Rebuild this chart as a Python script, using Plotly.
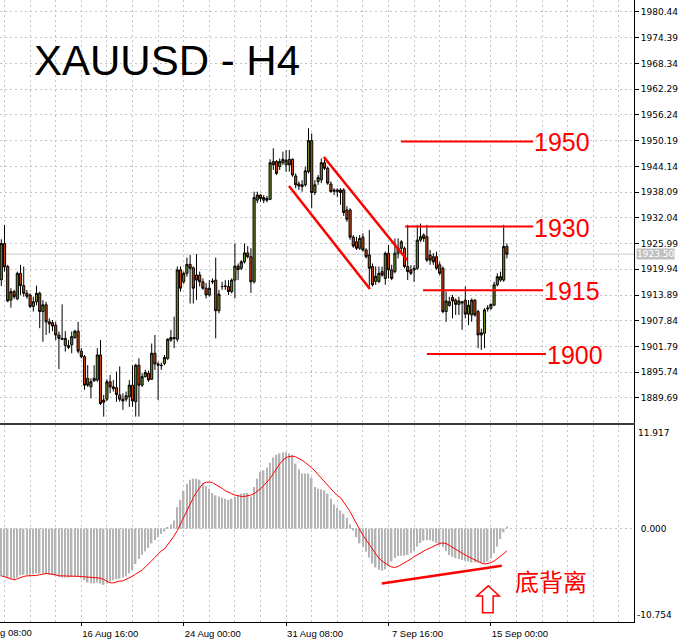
import plotly.graph_objects as go

# ---------------- data (H4 bars, index 0 = first full bar on screen) ----------------
bars = list(range(-1, 158))

open_ = [1917.5, 1926.0, 1920.6, 1912.7, 1914.7, 1913.0, 1919.0, 1916.1, 1914.3, 1913.9,
         1911.2, 1912.3, 1914.3, 1910.0, 1911.6, 1907.6, 1907.4, 1906.8, 1904.5, 1903.7,
         1902.0, 1902.0, 1902.2, 1903.9, 1905.4, 1900.7, 1899.4, 1894.3, 1892.3, 1893.7,
         1893.9, 1899.8, 1889.2, 1889.4, 1893.5, 1892.3, 1892.1, 1890.4, 1889.4, 1889.4,
         1890.0, 1892.7, 1888.8, 1897.4, 1892.7, 1894.7, 1895.5, 1894.1, 1900.2, 1897.7,
         1897.4, 1897.8, 1899.0, 1903.3, 1903.9, 1903.5, 1919.8, 1917.0, 1919.0, 1921.1,
         1920.3, 1918.6, 1918.6, 1917.0, 1915.5, 1913.9, 1917.2, 1917.4, 1910.2, 1915.9,
         1915.9, 1915.9, 1914.7, 1917.4, 1920.7, 1920.2, 1921.7, 1923.8, 1922.9, 1917.0,
         1936.2, 1937.4, 1936.2, 1936.6, 1936.4, 1945.3, 1945.3, 1944.1, 1945.0, 1944.5,
         1945.8, 1945.8, 1941.9, 1940.0, 1939.8, 1939.8, 1942.9, 1950.2, 1938.0, 1940.6,
         1941.0, 1945.0, 1943.7, 1940.0, 1938.6, 1938.6, 1938.6, 1938.6, 1933.9, 1933.9,
         1927.5, 1926.4, 1924.9, 1927.5, 1924.5, 1923.3, 1920.6, 1917.1, 1917.1, 1919.4,
         1917.8, 1923.7, 1919.8, 1919.4, 1923.7, 1924.9, 1924.9, 1920.6, 1919.8, 1920.2,
         1920.2, 1926.8, 1928.0, 1927.6, 1923.3, 1922.9, 1922.9, 1921.0, 1920.2, 1910.0,
         1911.4, 1913.3, 1912.7, 1911.7, 1912.0, 1912.7, 1909.4, 1909.2, 1912.7, 1910.0,
         1904.5, 1904.9, 1910.6, 1910.8, 1911.5, 1916.3, 1917.4, 1917.4, 1925.3]

high = [1927.0, 1930.4, 1921.0, 1915.5, 1915.1, 1919.4, 1921.0, 1920.6, 1915.1, 1914.3,
        1913.5, 1916.1, 1914.7, 1912.7, 1912.3, 1908.4, 1908.0, 1907.6, 1905.3, 1911.7,
        1905.4, 1903.3, 1905.3, 1905.7, 1907.6, 1901.4, 1899.8, 1897.4, 1894.3, 1897.4,
        1901.4, 1903.3, 1890.4, 1894.1, 1895.1, 1893.9, 1895.9, 1897.1, 1890.8, 1891.2,
        1893.9, 1897.4, 1897.7, 1899.0, 1895.5, 1896.3, 1896.1, 1902.5, 1904.5, 1898.2,
        1898.0, 1899.8, 1903.7, 1905.7, 1908.8, 1920.6, 1920.6, 1919.4, 1922.7, 1923.3,
        1920.6, 1923.5, 1919.4, 1917.8, 1916.7, 1917.4, 1917.8, 1922.7, 1915.1, 1917.0,
        1917.4, 1917.4, 1917.8, 1926.0, 1921.3, 1922.1, 1926.0, 1925.4, 1924.9, 1938.2,
        1938.2, 1937.6, 1937.4, 1937.2, 1945.8, 1948.4, 1945.6, 1946.0, 1947.6, 1948.0,
        1948.0, 1946.0, 1942.5, 1940.6, 1940.9, 1944.1, 1953.1, 1951.9, 1940.9, 1942.1,
        1946.0, 1945.8, 1944.1, 1940.6, 1939.0, 1939.0, 1939.0, 1939.0, 1934.8, 1934.3,
        1928.0, 1927.6, 1928.0, 1928.4, 1924.9, 1929.2, 1921.3, 1920.6, 1920.6, 1920.6,
        1924.1, 1925.7, 1921.0, 1927.2, 1927.2, 1926.8, 1925.3, 1930.4, 1920.9, 1920.9,
        1930.4, 1930.7, 1928.4, 1930.4, 1924.5, 1923.7, 1924.1, 1921.7, 1920.6, 1914.7,
        1913.5, 1913.9, 1913.1, 1913.5, 1912.5, 1915.9, 1912.7, 1913.1, 1912.9, 1910.4,
        1906.0, 1910.8, 1911.5, 1911.9, 1917.0, 1919.0, 1919.4, 1930.4, 1926.0]

low = [1916.0, 1919.4, 1912.2, 1910.9, 1913.0, 1912.7, 1913.9, 1913.5, 1913.0, 1910.8,
       1910.0, 1911.5, 1906.1, 1902.9, 1904.5, 1904.9, 1905.4, 1903.3, 1896.5, 1903.3,
       1900.6, 1901.2, 1900.2, 1903.6, 1900.2, 1899.0, 1891.6, 1892.3, 1889.6, 1893.5,
       1893.5, 1888.0, 1885.3, 1889.0, 1890.8, 1891.2, 1888.8, 1888.8, 1886.9, 1888.8,
       1887.6, 1887.6, 1885.3, 1885.3, 1892.3, 1894.5, 1893.5, 1893.9, 1896.3, 1889.2,
       1896.3, 1897.4, 1898.6, 1902.9, 1901.4, 1902.9, 1914.7, 1916.5, 1918.2, 1911.9,
       1911.9, 1912.7, 1915.9, 1915.1, 1913.1, 1913.5, 1916.5, 1903.7, 1909.6, 1915.1,
       1915.1, 1913.9, 1914.3, 1913.1, 1917.4, 1919.8, 1921.3, 1922.5, 1914.4, 1916.6,
       1935.5, 1935.8, 1935.5, 1935.7, 1936.2, 1943.3, 1942.1, 1943.3, 1944.5, 1942.9,
       1942.9, 1941.7, 1939.0, 1938.6, 1938.2, 1939.4, 1942.5, 1934.3, 1937.4, 1939.8,
       1940.2, 1943.3, 1939.8, 1938.0, 1937.4, 1936.9, 1935.1, 1932.5, 1931.1, 1926.9,
       1925.0, 1924.5, 1924.5, 1924.1, 1922.5, 1915.9, 1915.9, 1916.3, 1916.7, 1918.2,
       1916.3, 1917.8, 1917.4, 1919.0, 1922.5, 1924.1, 1920.2, 1917.4, 1918.6, 1917.0,
       1919.8, 1926.4, 1926.4, 1921.7, 1921.0, 1921.0, 1919.8, 1918.6, 1909.6, 1907.6,
       1911.2, 1908.4, 1909.2, 1909.2, 1905.7, 1908.4, 1906.8, 1907.6, 1908.8, 1901.4,
       1901.0, 1901.4, 1910.0, 1910.4, 1911.4, 1915.9, 1917.0, 1917.0, 1922.5]

close = [1926.0, 1920.5, 1912.5, 1914.7, 1913.5, 1919.0, 1916.1, 1914.3, 1913.6, 1911.2,
         1912.3, 1914.3, 1910.0, 1911.6, 1907.6, 1907.1, 1906.6, 1904.5, 1903.7, 1903.5,
         1903.7, 1901.6, 1904.1, 1905.4, 1900.7, 1899.4, 1892.7, 1892.7, 1893.5, 1894.3,
         1899.8, 1888.4, 1888.7, 1893.5, 1892.3, 1891.9, 1890.5, 1889.4, 1889.0, 1890.2,
         1892.7, 1889.0, 1897.4, 1892.7, 1894.7, 1895.7, 1893.9, 1900.2, 1897.7, 1897.4,
         1897.3, 1899.2, 1903.5, 1903.9, 1903.7, 1919.8, 1915.5, 1919.0, 1921.1, 1920.2,
         1915.5, 1917.4, 1917.0, 1915.5, 1913.9, 1915.5, 1917.0, 1910.2, 1914.1, 1915.9,
         1916.0, 1914.7, 1917.4, 1920.7, 1919.9, 1921.7, 1923.8, 1922.9, 1917.0, 1936.8,
         1937.4, 1936.6, 1936.8, 1936.2, 1945.0, 1944.5, 1942.5, 1945.3, 1945.8, 1945.6,
         1944.5, 1942.1, 1939.8, 1939.5, 1939.4, 1943.1, 1950.2, 1938.0, 1939.8, 1941.5,
         1945.0, 1943.7, 1940.2, 1938.2, 1938.3, 1938.2, 1938.0, 1933.3, 1931.7, 1927.5,
         1925.4, 1924.9, 1927.2, 1924.5, 1922.9, 1920.2, 1916.3, 1918.3, 1919.0, 1918.6,
         1923.7, 1919.8, 1917.8, 1923.7, 1924.9, 1926.4, 1920.6, 1919.4, 1919.0, 1919.8,
         1926.8, 1927.6, 1927.2, 1922.1, 1922.1, 1921.7, 1920.2, 1919.0, 1910.0, 1912.5,
         1912.3, 1912.5, 1911.7, 1912.5, 1912.3, 1909.4, 1911.5, 1912.7, 1909.2, 1904.5,
         1905.0, 1910.4, 1910.8, 1911.7, 1916.3, 1918.2, 1918.2, 1925.3, 1923.5]

macd_hist = [-5.50, -5.55, -5.63, -5.71, -5.78, -5.63, -5.36, -5.32, -5.32, -5.32,
             -5.24, -5.17, -5.17, -5.17, -5.24, -5.32, -5.36, -5.44, -5.55, -5.63,
             -5.63, -5.63, -5.55, -5.48, -5.55, -5.71, -5.94, -6.21, -6.29, -6.29,
             -6.21, -6.33, -6.48, -6.33, -6.10, -5.94, -5.82, -5.75, -5.63, -5.48,
             -5.17, -4.78, -4.09, -3.51, -3.01, -2.62, -2.24, -1.70, -1.31, -1.00,
             -0.62, -0.35, 0.08, 0.46, 0.93, 2.47, 3.31, 4.32, 5.17, 5.63,
             5.74, 5.74, 5.63, 5.24, 4.86, 4.59, 4.09, 3.82, 3.70, 3.55,
             3.43, 3.31, 3.43, 3.62, 3.82, 4.01, 4.09, 4.09, 3.70, 4.78,
             5.74, 6.51, 6.71, 7.02, 7.56, 8.18, 8.48, 8.64, 8.79, 8.79,
             8.64, 8.48, 7.48, 6.79, 6.33, 6.33, 6.33, 5.86, 4.78, 4.59,
             4.51, 4.40, 4.01, 3.43, 2.78, 2.39, 2.08, 1.70, 1.23, 0.46,
             -0.23, -1.00, -1.70, -2.16, -2.66, -3.32, -4.01, -4.47, -4.74, -4.86,
             -4.70, -4.28, -3.78, -3.40, -3.16, -3.12, -3.12, -3.01, -2.82, -2.55,
             -2.08, -1.66, -1.39, -1.31, -1.35, -1.47, -1.66, -1.93, -2.16, -2.62,
             -3.05, -3.24, -3.40, -3.51, -3.63, -3.70, -3.78, -3.90, -3.90, -3.90,
             -3.97, -4.01, -3.78, -3.43, -2.85, -2.08, -1.20, -0.42, 0.23]

macd_signal = [-5.44, -5.55, -5.67, -5.78, -5.90, -5.78, -5.63, -5.51, -5.44, -5.44,
               -5.44, -5.40, -5.32, -5.24, -5.17, -5.21, -5.24, -5.32, -5.44, -5.44,
               -5.44, -5.44, -5.44, -5.48, -5.51, -5.51, -5.55, -5.59, -5.63, -5.67,
               -5.67, -5.71, -5.86, -6.05, -6.25, -6.25, -6.13, -6.05, -6.02, -5.86,
               -5.71, -5.48, -5.24, -5.01, -4.78, -4.43, -4.12, -3.70, -3.31, -2.93,
               -2.58, -2.35, -1.85, -1.47, -0.85, -0.23, 0.54, 1.31, 2.08, 2.93,
               3.55, 4.20, 4.70, 5.17, 5.32, 5.36, 5.28, 5.09, 4.86, 4.63,
               4.36, 4.16, 4.01, 3.86, 3.74, 3.70, 3.70, 3.74, 3.86, 4.01,
               4.28, 4.59, 4.94, 5.32, 5.78, 6.32, 6.90, 7.44, 7.87, 8.17,
               8.29, 8.33, 8.25, 8.10, 7.87, 7.60, 7.33, 6.98, 6.63, 6.21,
               5.74, 5.32, 4.94, 4.55, 4.16, 3.82, 3.55, 3.05, 2.47, 1.97,
               1.23, 0.54, -0.15, -0.77, -1.31, -1.85, -2.47, -3.01, -3.43, -3.74,
               -4.01, -4.24, -4.43, -4.47, -4.36, -4.16, -3.97, -3.78, -3.51, -3.24,
               -3.01, -2.85, -2.62, -2.39, -2.24, -2.04, -1.85, -1.70, -1.66, -1.73,
               -1.93, -2.16, -2.43, -2.66, -2.85, -3.05, -3.24, -3.43, -3.62, -3.82,
               -3.97, -4.09, -4.05, -3.93, -3.74, -3.47, -3.20, -2.89, -2.54]

price_ticks = [1889.69, 1895.74, 1901.79, 1907.84, 1913.89, 1919.94, 1925.99, 1932.04,
               1938.09, 1944.14, 1950.19, 1956.24, 1962.29, 1968.34, 1974.39, 1980.44]
price_range = [1883.80, 1983.26]
macd_range = [-10.754, 11.917]

time_tick_bars = [24, 56, 88, 120, 152]
time_tick_labels = ["16 Aug 16:00", "24 Aug 00:00", "31 Aug 08:00", "7 Sep 16:00", "15 Sep 00:00"]
first_label_bar = -8
first_label = "9 Aug 08:00"

# drawn objects (bar index, price)
levels = [1950, 1930, 1915, 1900]
level_from = [123.9, 125.2, 130.8, 132.0]
level_to = [165.2, 165.2, 168.3, 169.2]
channel_up_x, channel_up_y = [99.8, 125.8], [1946.35, 1922.13]
channel_dn_x, channel_dn_y = [88.9, 114.2], [1939.53, 1915.31]
div_x, div_y = [117.9, 155.4], [-6.33, -4.28]
arrow_x = [151.2, 154.6, 152.7, 152.7, 149.4, 149.4, 147.6]
arrow_y = [-6.59, -7.75, -7.75, -9.68, -9.68, -7.75, -7.75]
div_label_x, div_label_y = 158.9, -6.0

# ---------------- styling ----------------
BULL = "#6b8e23"
BEAR = "#c8440e"
GRID = "#c4c4c4"
DASH = "2px,3px"
RED = "#ff0000"
PX_PER_BAR = 3.2
x_range = [-1.41, 196.72]
AXFONT = dict(family="DejaVu Sans", size=9, color="black")
XFONT = dict(family="Liberation Sans", size=9.5, color="black")

fig = go.Figure()
fig.add_trace(go.Candlestick(
    x=bars, open=open_, high=high, low=low, close=close,
    increasing=dict(fillcolor=BULL, line=dict(color="black", width=1)),
    decreasing=dict(fillcolor=BEAR, line=dict(color="black", width=1)),
    whiskerwidth=0, xaxis="x", yaxis="y", hoverinfo="skip", showlegend=False))
fig.add_trace(go.Bar(
    x=bars, y=macd_hist, width=0.45, marker=dict(color="#b4b4b4", line=dict(width=0)),
    xaxis="x2", yaxis="y2", hoverinfo="skip", showlegend=False))
fig.add_trace(go.Scatter(
    x=bars, y=macd_signal, mode="lines", line=dict(color=RED, width=1),
    xaxis="x2", yaxis="y2", hoverinfo="skip", showlegend=False))

minor_grid = dict(dtick=8, tick0=0, showgrid=True, gridcolor=GRID, griddash=DASH, gridwidth=1, ticks="")

fig.update_layout(
    width=691, height=639,
    margin=dict(l=0, r=57, t=0, b=17),
    paper_bgcolor="white", plot_bgcolor="white",
    showlegend=False, hovermode=False, boxgap=0.05,
    xaxis=dict(domain=[0, 1], anchor="y", range=x_range, rangeslider=dict(visible=False),
               tickvals=time_tick_bars, showticklabels=False, ticks="",
               showgrid=True, gridcolor=GRID, griddash=DASH, minor=minor_grid,
               showline=True, linecolor="#3a3a3a", linewidth=2, zeroline=False),
    yaxis=dict(domain=[0.3199, 1], anchor="x", side="right", range=price_range,
               tickvals=price_ticks, tickformat=".2f", ticks="outside", ticklen=4,
               tickcolor="black", tickfont=AXFONT, showgrid=True, gridcolor=GRID,
               griddash=DASH, showline=True, linecolor="black", linewidth=1, zeroline=False),
    xaxis2=dict(domain=[0, 1], anchor="y2", range=x_range, matches="x",
                tickvals=time_tick_bars, ticktext=time_tick_labels, ticks="outside",
                ticklen=3, tickcolor="black", tickfont=XFONT, ticklabelshift=29,
                showgrid=True, gridcolor=GRID, griddash=DASH, minor=minor_grid,
                showline=True, linecolor="black", linewidth=1, zeroline=False),
    yaxis2=dict(domain=[0, 0.3167], anchor="x2", side="right", range=macd_range,
                tickvals=[0], ticktext=["0.000"], ticks="outside", ticklen=4,
                tickcolor="rgba(0,0,0,0)", tickfont=AXFONT, showgrid=True,
                gridcolor=GRID, griddash=DASH, showline=True, linecolor="black",
                linewidth=1, zeroline=False),
)

shapes = []
# current price line
shapes.append(dict(type="line", xref="x domain", x0=0, x1=1, yref="y", y0=close[-1], y1=close[-1],
                   line=dict(color="#c8c8c8", width=1), layer="below"))
for lv, a, b in zip(levels, level_from, level_to):
    shapes.append(dict(type="line", xref="x", yref="y", x0=a, x1=b, y0=lv, y1=lv,
                       line=dict(color=RED, width=2)))
for xs, ys in ((channel_up_x, channel_up_y), (channel_dn_x, channel_dn_y)):
    shapes.append(dict(type="line", xref="x", yref="y", x0=xs[0], x1=xs[1], y0=ys[0], y1=ys[1],
                       line=dict(color=RED, width=2.5)))
shapes.append(dict(type="line", xref="x2", yref="y2", x0=div_x[0], x1=div_x[1],
                   y0=div_y[0], y1=div_y[1], line=dict(color=RED, width=2.5)))
path = "M " + " L ".join(f"{x},{y}" for x, y in zip(arrow_x, arrow_y)) + " Z"
shapes.append(dict(type="path", xref="x2", yref="y2", path=path,
                   line=dict(color=RED, width=1.5), fillcolor="white"))
fig.update_layout(shapes=shapes)

annotations = []
annotations.append(dict(text="XAUUSD - H4", xref="paper", yref="paper", x=0.05, y=0.902,
                        xanchor="left", yanchor="middle", showarrow=False,
                        font=dict(family="Liberation Sans", size=42, color="black")))
for lv, b in zip(levels, level_to):
    annotations.append(dict(text=str(lv), xref="x", yref="y", x=b, y=lv, xanchor="left",
                            yanchor="middle", xshift=-1, yshift=-1, showarrow=False,
                            font=dict(family="Liberation Sans", size=25, color=RED)))
annotations.append(dict(text="底背离", xref="x2", yref="y2", x=div_label_x, y=div_label_y,
                        xanchor="left", yanchor="middle", showarrow=False,
                        font=dict(family="Noto Sans CJK SC", size=24, color=RED)))
# current price tag
annotations.append(dict(text=f"{close[-1]:.2f}", xref="paper", yref="y", x=1, y=close[-1],
                        xanchor="left", yanchor="middle", xshift=2, showarrow=False,
                        bgcolor="#c0c0c0", borderpad=0,
                        font=dict(family="DejaVu Sans", size=9, color="white")))
# MACD scale extremes
annotations.append(dict(text=f"{macd_range[1]:.3f}", xref="paper", yref="y2 domain", x=1, y=1,
                        xanchor="left", yanchor="top", xshift=2, yshift=-1, showarrow=False,
                        font=AXFONT))
annotations.append(dict(text=f"{macd_range[0]:.3f}", xref="paper", yref="y2 domain", x=1, y=0,
                        xanchor="left", yanchor="bottom", xshift=1, showarrow=False,
                        font=AXFONT))
# partially visible first time label
annotations.append(dict(text=first_label, xref="x2", yref="paper", x=0, y=0,
                        xanchor="left", yanchor="top", yshift=-3,
                        xshift=first_label_bar * PX_PER_BAR,
                        showarrow=False, font=XFONT))
fig.update_layout(annotations=annotations)

fig.write_html("out.html", config={"displayModeBar": False},
               post_script="document.body.style.margin='0';document.body.style.overflow='hidden';")
